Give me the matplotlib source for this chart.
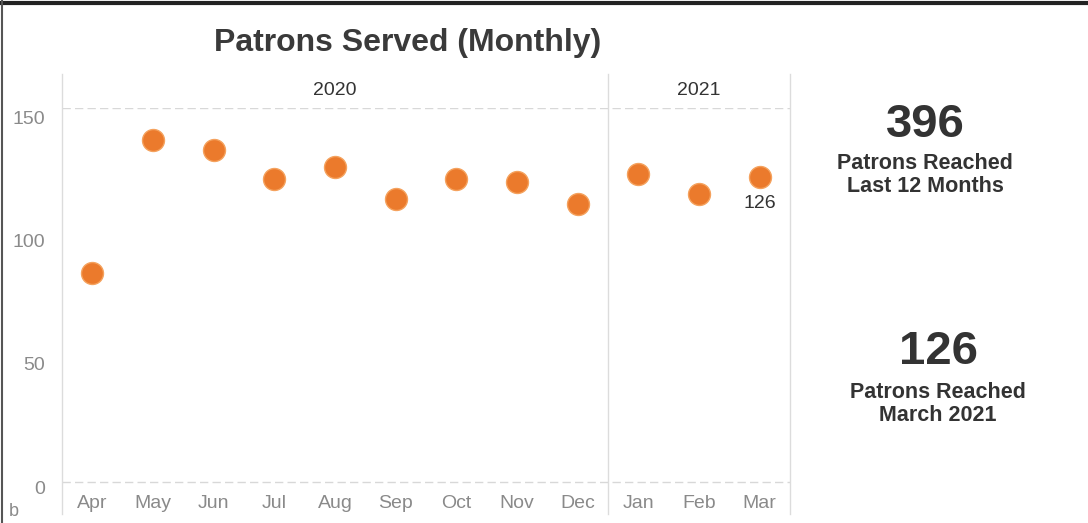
import matplotlib.pyplot as plt
import numpy as np

plt.rcParams['font.family'] = ['Liberation Sans', 'DejaVu Sans']

months = ['Apr', 'May', 'Jun', 'Jul', 'Aug', 'Sep', 'Oct', 'Nov', 'Dec', 'Jan', 'Feb', 'Mar']
patrons = [87, 141, 137, 125, 130, 117, 125, 124, 115, 127, 119, 126]
years = ['2020', '2021']
year_counts = [9, 3]
kpi_values = ['396', '126']
kpi_labels = ['Patrons Reached\nLast 12 Months', 'Patrons Reached\nMarch 2021']

W, H = 1088, 523
fig = plt.figure(figsize=(W / 100, H / 100), dpi=100)
fig.patch.set_facecolor('white')

# axes in pixel terms: left 62, right 790, top 108, bottom 487
ax = fig.add_axes([62 / W, (H - 487) / H, (790 - 62) / W, (487 - 108) / H])
x = np.arange(len(months))
ax.scatter(x, patrons, s=250, color='#EB7A2C', edgecolor='#F5A25E', linewidth=1, zorder=3)
ax.set_xlim(-0.5, len(months) - 0.5)
ax.set_ylim(0, 154)
ax.set_yticks([0, 50, 100, 150])
ax.set_xticks(x)
ax.set_xticklabels(months)
ax.tick_params(length=0, labelsize=14, labelcolor='#8a8a8a')
ax.tick_params(axis='y', pad=12)
ax.tick_params(axis='x', pad=6)

for s in ax.spines.values():
    s.set_visible(False)
ax.axhline(154, color='#d8d8d8', lw=1, ls=(0, (6, 3)))
ax.axhline(2, color='#d8d8d8', lw=1, ls=(0, (6, 3)))

# last value label
ax.annotate(str(patrons[-1]), (x[-1], patrons[-1]), xytext=(0, -19.5), textcoords='offset points',
            ha='center', va='center', fontsize=14, color='#333333')

# pane dividers and year headers
bounds = np.concatenate([[0], np.cumsum(year_counts)]) - 0.5
for b in bounds:
    ax.plot([b, b], [-0.07, 1.09], transform=ax.get_xaxis_transform(), color='#dcdcdc',
            lw=1, clip_on=False)
for i, yr in enumerate(years):
    ax.text((bounds[i] + bounds[i + 1]) / 2, 1.045, yr, transform=ax.get_xaxis_transform(),
            ha='center', va='center', fontsize=14, color='#333333')

fig.text(408 / W, 1 - 43 / H, 'Patrons Served (Monthly)', ha='center', va='center',
         fontsize=23, fontweight='bold', color='#3a3a3a')

# KPI text blocks
kpi_pos = [(925, 125, 175), (938, 352, 404)]
for (cx, vy, ly), v, lab in zip(kpi_pos, kpi_values, kpi_labels):
    fig.text(cx / W, 1 - vy / H, v, ha='center', va='center', fontsize=34,
             fontweight='bold', color='#333333')
    fig.text(cx / W, 1 - ly / H, lab, ha='center', va='center', fontsize=15.5,
             fontweight='bold', color='#333333', linespacing=1.15)

fig.text(14 / W, 1 - 512 / H, 'b', ha='center', va='center', fontsize=13, color='#8a8a8a')

# scanned frame edges
fig.add_artist(plt.Line2D([0, 1], [1 - 3 / H, 1 - 3 / H], color='#222222', lw=3))
fig.add_artist(plt.Line2D([2 / W, 2 / W], [0, 1], color='#555555', lw=1.5))

fig.savefig('out.png', dpi=100)
